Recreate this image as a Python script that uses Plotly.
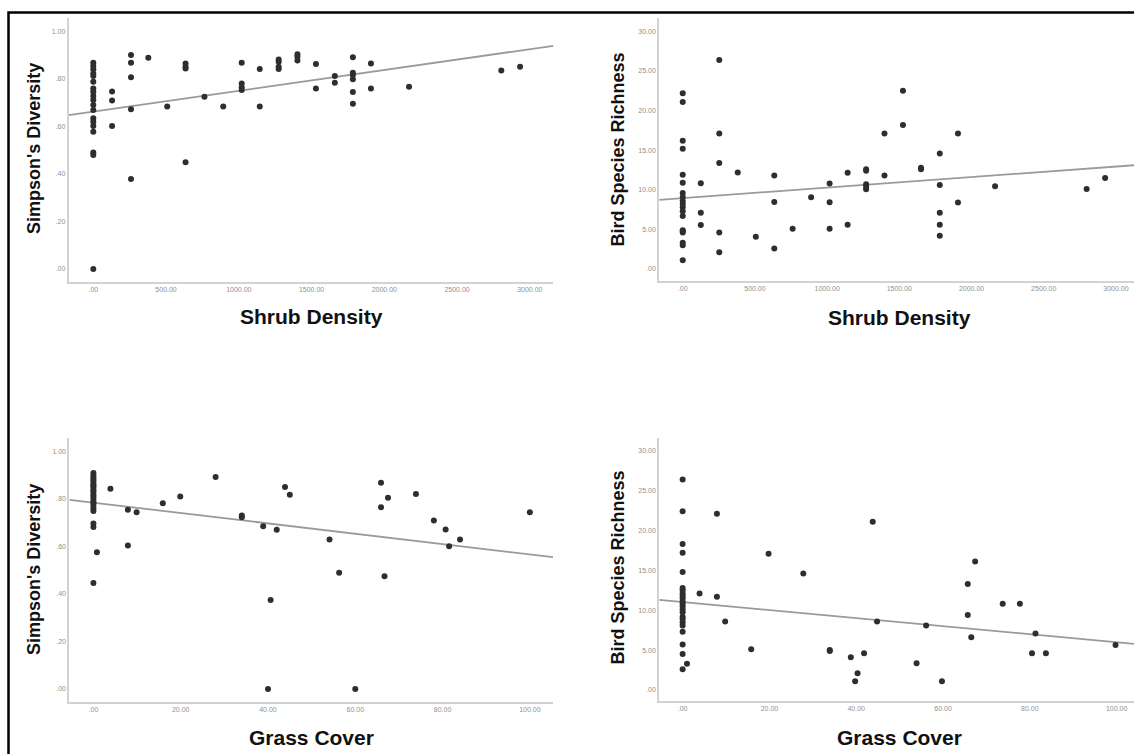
import plotly.graph_objects as go

# ---------------- data ----------------
# Panel A: Simpson's Diversity vs Shrub Density
shrub_a = ([0]*19 + [129]*3 + [259]*5 + [378] + [508] + [634]*4 + [764] + [893] +
           [1020]*4 + [1144]*2 + [1274]*4 + [1403]*3 + [1530]*2 + [1660]*2 +
           [1784]*6 + [1908]*2 + [2170] + [2804] + [2933])
simpson_a = [0.867, 0.853, 0.839, 0.822, 0.811, 0.787, 0.759, 0.745, 0.727, 0.710,
             0.689, 0.668, 0.633, 0.619, 0.601, 0.577, 0.489, 0.479, 0.0,
             0.746, 0.708, 0.601,
             0.899, 0.867, 0.806, 0.671, 0.378,
             0.888,
             0.683,
             0.864, 0.850, 0.843, 0.448,
             0.724,
             0.683,
             0.867, 0.780, 0.764, 0.752,
             0.841, 0.683,
             0.881, 0.871, 0.850, 0.841,
             0.903, 0.892, 0.876,
             0.862, 0.759,
             0.811, 0.783,
             0.890, 0.825, 0.815, 0.797, 0.744, 0.694,
             0.864, 0.759,
             0.766,
             0.834,
             0.850]
fit_a_x = [-169, 3162]
fit_a_y = [0.647, 0.938]

# Panel B: Bird Species Richness vs Shrub Density
shrub_b = ([0]*19 + [125]*3 + [253]*5 + [381] + [506] + [634]*3 + [761] + [889] +
           [1017]*3 + [1142]*2 + [1270]*5 + [1397]*2 + [1525]*2 + [1650]*2 +
           [1780]*5 + [1906]*2 + [2163] + [2797] + [2925])
richness_b = [22.2, 21.1, 16.2, 15.2, 11.9, 10.9, 9.6, 9.1, 8.6, 8.2, 7.8, 7.3, 6.7,
              4.9, 4.6, 3.3, 3.0, 1.1, 4.8,
              10.83, 7.11, 5.54,
              26.4, 17.1, 13.4, 4.6, 2.1,
              12.2,
              4.06,
              11.8, 8.46, 2.58,
              5.08,
              9.06,
              10.79, 8.42, 5.08,
              12.15, 5.59,
              12.6, 12.4, 10.7, 10.4, 10.07,
              17.1, 11.8,
              22.5, 18.2,
              12.8, 12.6,
              14.6, 10.6, 7.1, 5.6, 4.2,
              17.1, 8.4,
              10.45,
              10.1,
              11.5]
fit_b_x = [-163, 3125]
fit_b_y = [8.73, 13.1]

# Panel C: Simpson's Diversity vs Grass Cover
grass_c = ([0]*21 + [0.8, 3.9, 7.9, 7.9, 9.9, 15.9, 19.9, 28.0, 34.0, 34.0, 38.9, 40.0,
           40.6, 42.0, 43.9, 45.0, 54.1, 56.3, 60.0, 65.9, 65.9, 66.7, 67.5, 73.9,
           78.0, 80.7, 81.5, 84.0, 100.0])
simpson_c = [0.908, 0.897, 0.888, 0.879, 0.871, 0.861, 0.853, 0.846, 0.835, 0.828,
             0.817, 0.809, 0.800, 0.789, 0.781, 0.770, 0.759, 0.748, 0.695, 0.681,
             0.445,
             0.575, 0.842, 0.753, 0.603, 0.743, 0.781, 0.809, 0.891, 0.729, 0.722,
             0.684, 0.0, 0.374, 0.669, 0.849, 0.816, 0.628, 0.488, 0.0, 0.867,
             0.764, 0.474, 0.804, 0.820, 0.708, 0.670, 0.600, 0.628, 0.743]
fit_c_x = [-5.5, 105.3]
fit_c_y = [0.795, 0.554]

# Panel D: Bird Species Richness vs Grass Cover
grass_d = ([0]*23 + [1.0, 3.9, 7.9, 7.9, 9.8, 15.8, 19.8, 27.8, 33.9, 33.9, 38.75,
           39.75, 40.3, 41.8, 43.8, 44.8, 53.9, 56.1, 59.75, 65.7, 65.7, 66.5, 67.4,
           73.75, 77.7, 80.5, 81.3, 83.7, 99.75])
richness_d = [26.4, 22.4, 18.3, 17.2, 14.8, 12.8, 12.5, 12.1, 11.8, 11.5, 11.1, 10.8,
              10.5, 10.1, 9.75, 9.2, 8.9, 8.5, 8.1, 7.3, 5.7, 4.5, 2.6,
              3.3, 12.1, 22.1, 11.7, 8.6, 5.1, 17.1, 14.6, 5.0, 4.9, 4.1,
              1.1, 2.1, 4.6, 21.1, 8.6, 3.35, 8.1, 1.1, 13.3, 9.4, 6.6, 16.1,
              10.8, 10.8, 4.6, 7.1, 4.6, 5.65]
fit_d_x = [-5.4, 104.0]
fit_d_y = [11.3, 5.78]

shrub_ticks = [0, 500, 1000, 1500, 2000, 2500, 3000]
shrub_ticktext = ['.00', '500.00', '1000.00', '1500.00', '2000.00', '2500.00', '3000.00']
grass_ticks = [0, 20, 40, 60, 80, 100]
grass_ticktext = ['.00', '20.00', '40.00', '60.00', '80.00', '100.00']
simpson_ticks = [0, 0.2, 0.4, 0.6, 0.8, 1.0]
simpson_ticktext = ['.00', '.20', '.40', '.60', '.80', '1.00']
richness_ticks = [0, 5, 10, 15, 20, 25, 30]
richness_ticktext = ['.00', '5.00', '10.00', '15.00', '20.00', '25.00', '30.00']

# ---------------- figure ----------------
W, H = 1134, 754
fig = go.Figure()

marker = dict(color='#2e2e2e', size=6, line=dict(width=0))
linestyle = dict(color='#9a9a9a', width=1.8)

panels = [
    ('x', 'y', shrub_a, simpson_a, fit_a_x, fit_a_y),
    ('x2', 'y2', shrub_b, richness_b, fit_b_x, fit_b_y),
    ('x3', 'y3', grass_c, simpson_c, fit_c_x, fit_c_y),
    ('x4', 'y4', grass_d, richness_d, fit_d_x, fit_d_y),
]
for xa, ya, xs, ys, fx, fy in panels:
    fig.add_trace(go.Scatter(x=fx, y=fy, mode='lines', line=linestyle,
                             xaxis=xa, yaxis=ya, showlegend=False, hoverinfo='skip'))
    fig.add_trace(go.Scatter(x=xs, y=ys, mode='markers', marker=marker,
                             xaxis=xa, yaxis=ya, showlegend=False))

def px(v):
    return v / W

def py(v):
    return 1 - v / H

tickfont = dict(family='Liberation Sans, Arial, sans-serif', size=7, color='#8f8f8f')
axline = dict(showline=True, linecolor='#d2d2d2', linewidth=2, showgrid=False,
              zeroline=False, ticks='', tickfont=tickfont)

fig.update_layout(
    width=W, height=H, margin=dict(l=0, r=0, t=0, b=0),
    paper_bgcolor='white', plot_bgcolor='white', showlegend=False,
    xaxis=dict(domain=[px(68.7), px(553.4)], range=fit_a_x, anchor='y',
               tickvals=shrub_ticks, ticktext=shrub_ticktext, **axline),
    yaxis=dict(domain=[py(282), py(18)], range=[-0.055, 1.055], anchor='x',
               tickvals=simpson_ticks, ticktext=simpson_ticktext, **axline),
    xaxis2=dict(domain=[px(659.2), 1.0], range=fit_b_x, anchor='y2',
                tickvals=shrub_ticks, ticktext=shrub_ticktext, **axline),
    yaxis2=dict(domain=[py(281), py(18)], range=[-1.52, 31.7], anchor='x2',
                tickvals=richness_ticks, ticktext=richness_ticktext, **axline),
    xaxis3=dict(domain=[px(69.4), px(553)], range=fit_c_x, anchor='y3',
                tickvals=grass_ticks, ticktext=grass_ticktext, **axline),
    yaxis3=dict(domain=[py(702), py(438)], range=[-0.055, 1.055], anchor='x3',
                tickvals=simpson_ticks, ticktext=simpson_ticktext, **axline),
    xaxis4=dict(domain=[px(659.2), 1.0], range=fit_d_x, anchor='y4',
                tickvals=grass_ticks, ticktext=grass_ticktext, **axline),
    yaxis4=dict(domain=[py(701), py(438)], range=[-1.38, 31.6], anchor='x4',
                tickvals=richness_ticks, ticktext=richness_ticktext, **axline),
)

titlefont_h = dict(family='Liberation Sans, Arial, sans-serif', size=21, color='#111111')
titlefont_v = dict(family='Liberation Sans, Arial, sans-serif', size=18, color='#111111')

annots = [
    ('<b>Shrub Density</b>', 311.6, 316, 0, titlefont_h),
    ('<b>Shrub Density</b>', 899, 317, 0, titlefont_h),
    ('<b>Grass Cover</b>', 311.6, 737, 0, titlefont_h),
    ('<b>Grass Cover</b>', 899, 737, 0, titlefont_h),
    ("<b>Simpson's Diversity</b>", 34, 149, -90, titlefont_v),
    ('<b>Bird Species Richness</b>', 617.6, 150, -90, titlefont_v),
    ("<b>Simpson's Diversity</b>", 34, 570, -90, titlefont_v),
    ('<b>Bird Species Richness</b>', 617.6, 568, -90, titlefont_v),
]
for text, x, y, ang, f in annots:
    fig.add_annotation(text=text, x=px(x), y=py(y), xref='paper', yref='paper',
                       showarrow=False, textangle=ang, font=f,
                       xanchor='center', yanchor='middle')

# outer black frame
fig.add_shape(type='rect', xref='paper', yref='paper',
              x0=px(8.5), x1=px(1140), y0=py(760), y1=py(12.5),
              line=dict(color='black', width=2.5), fillcolor='rgba(0,0,0,0)')

fig.write_html('out.html')
